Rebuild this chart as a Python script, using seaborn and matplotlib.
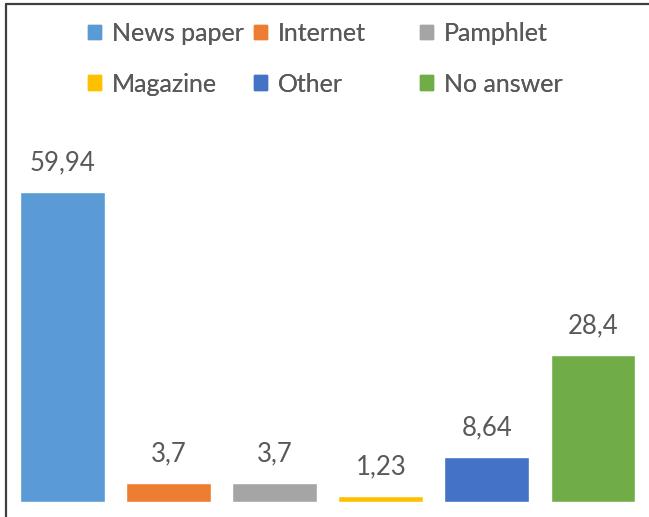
import matplotlib.pyplot as plt
import matplotlib.patches as mpatches
from matplotlib.lines import Line2D
import seaborn as sns
import pandas as pd

categories = ["News paper", "Internet", "Pamphlet", "Magazine", "Other", "No answer"]
values = [59.94, 3.7, 3.7, 1.23, 8.64, 28.4]
value_labels = ["59,94", "3,7", "3,7", "1,23", "8,64", "28,4"]
colors = ["#5B9BD5", "#ED7D31", "#A5A5A5", "#FFC000", "#4472C4", "#70AD47"]

sns.set_style("white")
plt.rcParams['font.family'] = ['Lato', 'DejaVu Sans']
text_color = "#595959"
fs = 18

df = pd.DataFrame({"source": categories, "percent": values})

fig = plt.figure(figsize=(6.49, 5.17), dpi=100)
ax = fig.add_axes([9.5 / 649, 15 / 517, 636.5 / 649, 352 / 517])
sns.barplot(data=df, x="source", y="percent", hue="source", palette=colors,
            order=categories, hue_order=categories, width=0.8, legend=False,
            saturation=1, ax=ax)
ax.set_xlim(-0.5, 5.5)
ax.set_ylim(0, 68.1)

for i, container in enumerate(ax.containers):
    ax.bar_label(container, labels=[value_labels[i]], padding=12,
                 fontsize=18.5, color=text_color)

ax.set_axis_off()

# legend: three equal-width columns, filled row by row like the original
handles = [mpatches.Patch(color=c, label=l) for c, l in zip(colors, categories)]
col_x = [88, 254, 420]
for col in range(3):
    idx = [col, col + 3]
    leg = fig.legend([handles[k] for k in idx], [categories[k] for k in idx],
                     loc="upper left", bbox_to_anchor=(col_x[col] / 649, 1 - 22 / 517),
                     ncol=1, frameon=False, fontsize=fs, labelcolor=text_color,
                     handlelength=0.52, handleheight=0.52, handletextpad=0.45,
                     labelspacing=1.1, borderpad=0, borderaxespad=0)
    fig.add_artist(leg)

# chart border (left and top edges visible)
fig.add_artist(Line2D([5.5 / 649, 5.5 / 649], [0, 1 - 3.5 / 517],
                      transform=fig.transFigure, color="#3f3f3f", lw=1.6))
fig.add_artist(Line2D([5.5 / 649, 1], [1 - 3.5 / 517, 1 - 3.5 / 517],
                      transform=fig.transFigure, color="#3f3f3f", lw=1.6))

fig.savefig("out.png", dpi=100, facecolor="white")
